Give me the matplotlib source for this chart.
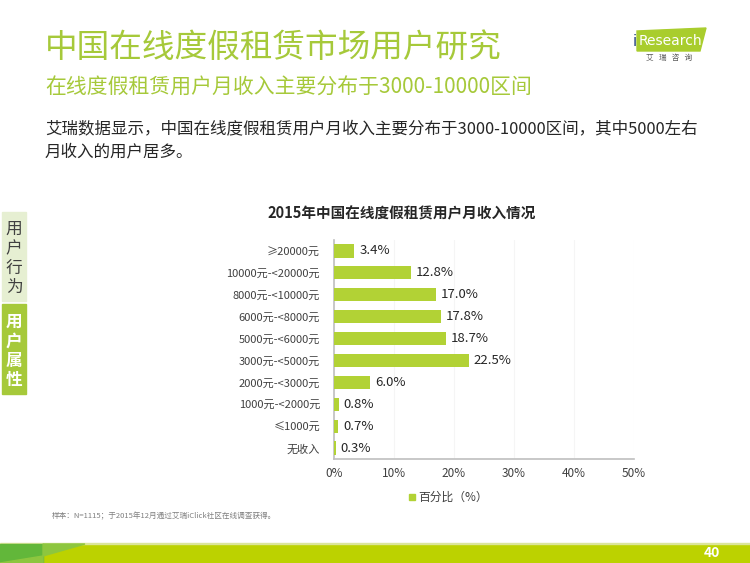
import matplotlib
matplotlib.use("Agg")
from matplotlib import pyplot as plt
from matplotlib.patches import Rectangle, Polygon
import numpy as np

plt.rcParams['font.family'] = ['Noto Sans CJK SC', 'DejaVu Sans']

# data
categories = ["≥20000元", "10000元-<20000元", "8000元-<10000元", "6000元-<8000元",
              "5000元-<6000元", "3000元-<5000元", "2000元-<3000元", "1000元-<2000元",
              "≤1000元", "无收入"]
values = [3.4, 12.8, 17.0, 17.8, 18.7, 22.5, 6.0, 0.8, 0.7, 0.3]
xticks = [0, 10, 20, 30, 40, 50]

green = "#a6c93a"
bar_green = "#b2d235"

fig = plt.figure(figsize=(7.5, 5.63), dpi=100)

# headers
fig.text(45 / 750, 1 - 48 / 563, "中国在线度假租赁市场用户研究", fontsize=23.5,
         color=green, va="center", ha="left")
fig.text(45 / 750, 1 - 88 / 563, "在线度假租赁用户月收入主要分布于3000-10000区间", fontsize=15,
         color=green, va="center", ha="left")
fig.text(45 / 750, 1 - 129 / 563,
         "艾瑞数据显示，中国在线度假租赁用户月收入主要分布于3000-10000区间，其中5000左右",
         fontsize=11.9, color="#262626", va="center", ha="left")
fig.text(45 / 750, 1 - 152 / 563, "月收入的用户居多。", fontsize=11.9,
         color="#262626", va="center", ha="left")

# logo
logo = Polygon([(637 / 750, 1 - 31 / 563), (706 / 750, 1 - 28 / 563),
                (700 / 750, 1 - 51 / 563), (637 / 750, 1 - 51 / 563)],
               closed=True, transform=fig.transFigure, color="#a9cd2d", zorder=1)
fig.patches.append(logo)
fig.text(633 / 750, 1 - 41 / 563, "i", fontsize=10.5, color="#1f3d7a",
         va="center", ha="left", family="DejaVu Sans")
fig.text(639 / 750, 1 - 41 / 563, "Research", fontsize=10, color="white",
         va="center", ha="left", family="DejaVu Sans")
fig.text(669 / 750, 1 - 58 / 563, "艾   瑞   咨   询", fontsize=5.5, color="#595959",
         va="center", ha="center")

# side tabs
fig.patches.append(Rectangle((2 / 750, 1 - 301 / 563), 24 / 750, 89 / 563,
                             transform=fig.transFigure, color="#e6efd2"))
fig.patches.append(Rectangle((2 / 750, 1 - 394 / 563), 24 / 750, 90 / 563,
                             transform=fig.transFigure, color="#a6c93a"))
for i, ch in enumerate("用户行为"):
    fig.text(14 / 750, 1 - (229 + i * 19.5) / 563, ch, fontsize=12, color="#404040",
             ha="center", va="center")
for i, ch in enumerate("用户属性"):
    fig.text(14 / 750, 1 - (322 + i * 19.5) / 563, ch, fontsize=12, color="white",
             ha="center", va="center", fontweight="bold")

# chart
ax = fig.add_axes([334 / 750, 1 - 459 / 563, 300 / 750, 219 / 563])
y = np.arange(len(categories))
ax.barh(y, values, height=0.6, color=bar_green, zorder=3)
for yi, v in zip(y, values):
    ax.text(v + 0.8, yi, f"{v:.1f}%", va="center", ha="left", fontsize=9.5, color="#262626")
ax.set_yticks(y)
ax.set_yticklabels(categories, fontsize=8, color="#404040")
ax.set_ylim(len(categories) - 0.5, -0.5)
ax.set_xlim(0, 50)
ax.set_xticks(xticks)
ax.set_xticklabels([f"{t}%" for t in xticks], fontsize=8.5, color="#404040")
ax.tick_params(length=0, pad=10)
ax.tick_params(axis="x", pad=6)
ax.grid(axis="x", color="#f5f5f5", linewidth=0.8, zorder=0)
for s in ["top", "right"]:
    ax.spines[s].set_visible(False)
ax.spines["left"].set_color("#bfbfbf")
ax.spines["bottom"].set_color("#bfbfbf")
ax.spines["left"].set_linewidth(1.2)
ax.spines["bottom"].set_linewidth(1.2)

fig.text(402 / 750, 1 - 213 / 563, "2015年中国在线度假租赁用户月收入情况", fontsize=10.5,
         fontweight="bold", color="#262626", ha="center", va="center")

# legend
fig.patches.append(Rectangle((409 / 750, 1 - 500 / 563), 6 / 750, 6 / 563,
                             transform=fig.transFigure, color=bar_green))
fig.text(418 / 750, 1 - 497 / 563, "百分比（%）", fontsize=8.5, color="#404040",
         ha="left", va="center")

# footnote
fig.text(52 / 750, 1 - 516 / 563, "样本：N=1115；于2015年12月通过艾瑞iClick社区在线调查获得。",
         fontsize=5.5, color="#7f7f7f", ha="left", va="center")

# bottom band
fig.patches.append(Rectangle((0, 0), 1, 19 / 563, transform=fig.transFigure,
                             color="#bcd200"))
fig.patches.append(Rectangle((0, 19 / 563), 1, 1.5 / 563, transform=fig.transFigure,
                             color="#dbe59a"))
fig.patches.append(Polygon([(0, 0), (0, 19 / 563), (43 / 750, 19 / 563), (43 / 750, 0)],
                           closed=True, transform=fig.transFigure, color="#62b73a"))
fig.patches.append(Polygon([(43 / 750, 19 / 563), (85 / 750, 19 / 563), (43 / 750, 7 / 563)],
                           closed=True, transform=fig.transFigure, color="#8dc63f"))
fig.patches.append(Polygon([(0, 0), (43 / 750, 7 / 563), (43 / 750, 0)],
                           closed=True, transform=fig.transFigure, color="#8dc63f"))
fig.text(712 / 750, 1 - 553 / 563, "40", fontsize=10, color="white", fontweight="bold",
         ha="center", va="center")

fig.savefig("out.png", dpi=100)
